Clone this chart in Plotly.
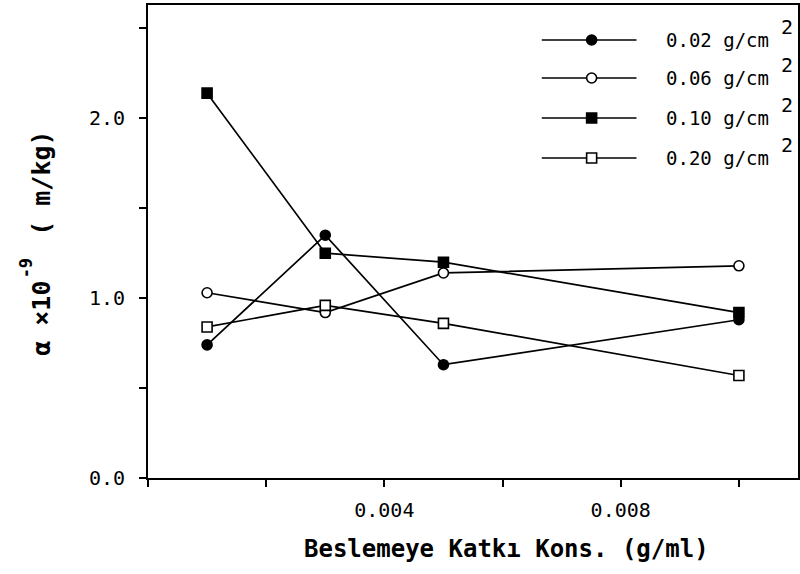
import plotly.graph_objects as go

# Feed additive concentration (g/ml)
conc = [0.001, 0.003, 0.005, 0.010]

# Specific cake resistance, alpha x 10^-9 (m/kg), one list per cake loading
alpha_002 = [0.74, 1.35, 0.63, 0.88]
alpha_006 = [1.03, 0.92, 1.14, 1.18]
alpha_010 = [2.14, 1.25, 1.20, 0.92]
alpha_020 = [0.84, 0.96, 0.86, 0.57]

series_names = ["0.02 g/cm", "0.06 g/cm", "0.10 g/cm", "0.20 g/cm"]

x_tick_vals = [0.004, 0.008]
x_tick_text = ["0.004", "0.008"]
y_tick_vals = [0.0, 1.0, 2.0]
y_tick_text = ["0.0", "1.0", "2.0"]

series_values = [alpha_002, alpha_006, alpha_010, alpha_020]
symbols = ["circle", "circle", "square", "square"]
fills = ["black", "white", "black", "white"]

W, H = 800, 574
L, R, T, B = 148, 0, 5, 96
PW, PH = W - L - R, H - T - B
mono = "DejaVu Sans Mono"


def px_to_paper(px, py):
    """Convert a page pixel position to paper coordinates."""
    return (px - L) / PW, (H - B - py) / PH


fig = go.Figure()

for name, vals, sym, fc in zip(series_names, series_values, symbols, fills):
    fig.add_trace(go.Scatter(
        x=conc, y=vals, mode="lines+markers", name=name,
        line=dict(color="black", width=1.7),
        marker=dict(symbol=sym, size=10, color=fc,
                    line=dict(color="black", width=1.6)),
        showlegend=False,
    ))

# Legend keys: a long sample line with the series symbol in its middle
leg_rows = [40, 78, 118, 158]
for i, (name, sym, fc) in enumerate(zip(series_names, symbols, fills)):
    x0, y = px_to_paper(543, leg_rows[i])
    x1, _ = px_to_paper(638, leg_rows[i])
    xm, _ = px_to_paper(593, leg_rows[i])
    fig.add_shape(type="line", xref="paper", yref="paper",
                  x0=x0, x1=x1, y0=y, y1=y,
                  line=dict(color="black", width=1.7))
    fig.add_shape(type="circle" if sym == "circle" else "rect",
                  xref="paper", yref="paper",
                  xsizemode="pixel", ysizemode="pixel",
                  xanchor=xm, yanchor=y, x0=-5, x1=5, y0=-5, y1=5,
                  fillcolor=fc, line=dict(color="black", width=1.6))
    tx, _ = px_to_paper(666, leg_rows[i])
    fig.add_annotation(
        x=tx, y=y, xref="paper", yref="paper", text=name, showarrow=False,
        xanchor="left", yanchor="middle",
        font=dict(family=mono, size=19, color="black"),
    )
    sx, sy = px_to_paper(781, leg_rows[i] - 13)
    fig.add_annotation(
        x=sx, y=sy, xref="paper", yref="paper", text="2", showarrow=False,
        xanchor="left", yanchor="middle",
        font=dict(family=mono, size=20, color="black"),
    )

axis_common = dict(
    showline=True, linecolor="black", linewidth=2, mirror=True,
    ticks="outside", ticklen=7, tickwidth=2, tickcolor="black",
    showgrid=False, zeroline=False,
    tickfont=dict(family=mono, size=20, color="black"),
)

fig.update_layout(
    width=W, height=H,
    margin=dict(l=L, r=R, t=T, b=B),
    paper_bgcolor="white", plot_bgcolor="white",
    xaxis=dict(range=[0, 0.011], tickmode="array", tickvals=x_tick_vals,
               ticktext=x_tick_text, ticklabelstandoff=6,
               minor=dict(ticks="outside", ticklen=7, tickwidth=2,
                          tickcolor="black", tick0=0, dtick=0.002,
                          showgrid=False),
               **axis_common),
    yaxis=dict(range=[0, 2.63], tickmode="array", tickvals=y_tick_vals,
               ticktext=y_tick_text, ticklabelstandoff=10,
               minor=dict(ticks="outside", ticklen=7, tickwidth=2,
                          tickcolor="black", tick0=0, dtick=0.5,
                          showgrid=False),
               **axis_common),
)

# x-axis title
tx, ty = px_to_paper(508, 549)
fig.add_annotation(
    x=tx, y=ty, xref="paper", yref="paper", showarrow=False,
    text="Beslemeye Katkı Kons. (g/ml)",
    font=dict(family=mono, size=24, color="black", weight="bold"),
    xanchor="center", yanchor="middle",
)

# y-axis title, built from three rotated pieces so the exponent sits above "10"
title_font = dict(family=mono, size=25, color="black", weight="bold")
ax, ay = px_to_paper(41, 358)
fig.add_annotation(
    x=ax, y=ay, xref="paper", yref="paper", showarrow=False,
    text="α ×10", textangle=-90, font=title_font,
    xanchor="center", yanchor="bottom",
)
ex, ey = px_to_paper(26, 268)
fig.add_annotation(
    x=ex, y=ey, xref="paper", yref="paper", showarrow=False,
    text="-9", textangle=-90,
    font=dict(family=mono, size=17, color="black", weight="bold"),
    xanchor="center", yanchor="middle",
)
ux, uy = px_to_paper(41, 238)
fig.add_annotation(
    x=ux, y=uy, xref="paper", yref="paper", showarrow=False,
    text="( m/kg)", textangle=-90, font=title_font,
    xanchor="center", yanchor="bottom",
)

fig.write_html("out.html")
